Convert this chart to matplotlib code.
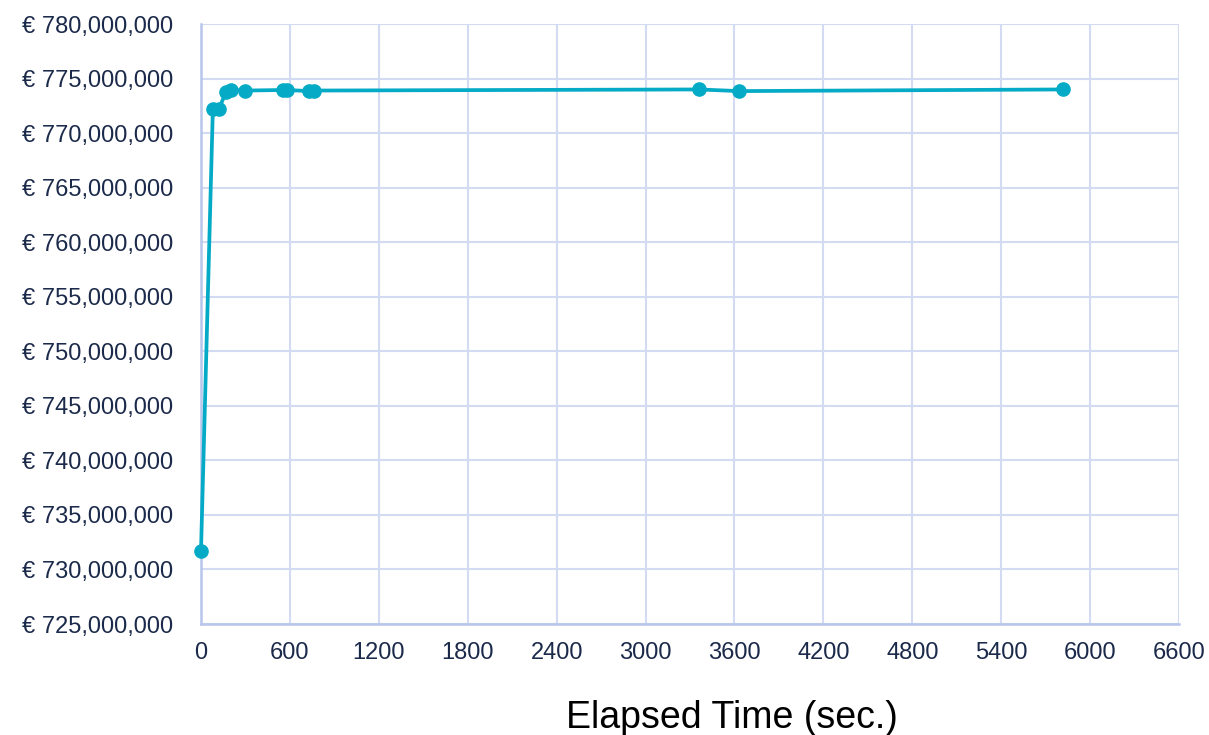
import matplotlib
matplotlib.use("Agg")
import matplotlib.pyplot as plt
from matplotlib.ticker import FuncFormatter, MultipleLocator

# Objective value over solver runtime
elapsed_sec = [0, 80, 120, 170, 200, 300, 550, 580, 730, 765, 3360, 3630, 5820]
objective_mln = [731.7, 772.2, 772.2, 773.8, 773.95, 773.9, 773.95, 773.95,
                 773.85, 773.9, 774.0, 773.85, 774.0]

x_ticks = list(range(0, 6601, 600))
y_min, y_max, y_step = 725, 780, 5

line_color = "#05ABC6"
text_color = "#1B2A4A"
grid_color = "#D3DBF2"
spine_color = "#B7C6EA"

plt.rcParams["font.family"] = ["Liberation Sans", "DejaVu Sans"]

W, H = 1209, 735
fig = plt.figure(figsize=(W / 100, H / 100), dpi=100)
ax = fig.add_axes([201 / W, 1 - 624 / H, (1179 - 201) / W, (624 - 24) / H])

ax.plot(elapsed_sec, [v * 1e6 for v in objective_mln], color=line_color,
        linewidth=2.7, marker="o", markersize=9.5, zorder=3, clip_on=False)

ax.set_xlim(0, 6600)
ax.set_ylim(y_min * 1e6, y_max * 1e6)
ax.set_xticks(x_ticks)
ax.yaxis.set_major_locator(MultipleLocator(y_step * 1e6))
ax.yaxis.set_major_formatter(FuncFormatter(lambda v, _: "€ {:,.0f}".format(v)))

ax.grid(True, color=grid_color, linewidth=1.5)
ax.set_axisbelow(True)
for side, sp in ax.spines.items():
    if side in ("left", "bottom"):
        sp.set_color(spine_color)
        sp.set_linewidth(1.8)
    else:
        sp.set_visible(False)

ax.tick_params(length=0, labelsize=17, colors=text_color)
ax.tick_params(axis="x", pad=13)
ax.tick_params(axis="y", pad=20)

fig.text(732 / W, 1 - 718 / H, "Elapsed Time (sec.)", fontsize=27,
         color="black", ha="center", va="center")

fig.savefig("out.png", dpi=100)
